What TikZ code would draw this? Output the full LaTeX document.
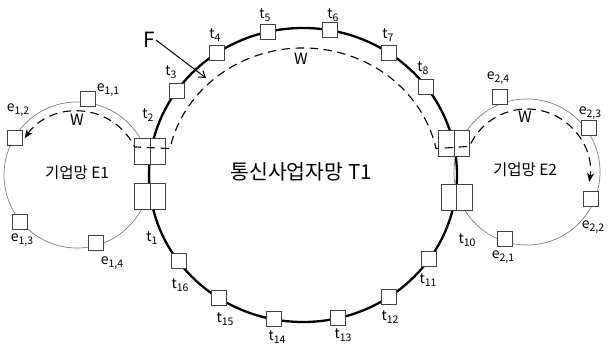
\documentclass[tikz,border=0pt]{standalone}
\usepackage{fontspec}
\setmainfont{Noto Sans CJK KR}
\usetikzlibrary{calc}
\usetikzlibrary{arrows.meta}

\newcommand{\lsub}[1]{\raisebox{-0.35ex}{\fontsize{10.5}{10.5}\selectfont #1}}

\begin{document}
\begin{tikzpicture}[
      x=1pt, y=1pt,
      tbox/.style={draw=black!75, fill=white, line width=0.8pt, minimum size=15pt, inner sep=0pt},
      pairbox/.style={draw=black!75, fill=white, line width=0.8pt, minimum width=31pt, minimum height=26pt, inner sep=0pt},
      lbl/.style={font=\fontsize{14}{14}\selectfont, inner sep=0pt},
      ring/.style={line width=2.3pt},
      ering/.style={draw=black!50, line width=0.7pt},
      wpath/.style={dash pattern=on 8.5pt off 5.5pt, line width=1.1pt},
      ]

      \useasboundingbox (0,0) rectangle (612,344);

      \coordinate (c) at (303,169);
      \coordinate (ce1) at (77,169);
      \coordinate (ce2) at (527,172);

      % rings
      \draw[ering] (ce1) circle (73pt);
      \draw[ering] (ce2) circle (73pt);
      \draw[ring] (c) ellipse (154pt and 147pt);

      % terminals on the operator ring
      \foreach \a/\n in {145/3, 124/4, 103/5, 80/6, 56/7, 37/8, -35/11, -56/12, -77/13, -101/14, -123/15, -144/16}
        \node[tbox] (t\n) at ($(c)+(\a:154pt and 147pt)$) {};

      \node[pairbox] (t2) at (150,192.5) {};
      \node[pairbox] (t1) at (150,147.5) {};
      \node[pairbox] (t9) at (454,201) {};
      \node[pairbox] (t10) at (456.5,146.5) {};
      \foreach \n in {1,2,9,10}
        \draw[draw=black!75, line width=0.8pt] (t\n.north) -- (t\n.south);

      % terminals on the enterprise rings
      \node[tbox] (e11) at (88,245) {};
      \node[tbox] (e12) at (14.5,206.5) {};
      \node[tbox] (e13) at (19.5,122.5) {};
      \node[tbox] (e14) at (96,101) {};
      \node[tbox] (e24) at (500,247) {};
      \node[tbox] (e23) at (589,216) {};
      \node[tbox] (e22) at (591,145) {};
      \node[tbox] (e21) at (505,105) {};

      % working path
      \draw[wpath, {Stealth[length=9pt,width=7pt]}-{Stealth[length=9pt,width=7pt]}]
        ($(ce1)+(145:64pt)$) arc[start angle=145, end angle=26, radius=64pt]
        -- ($(c)+(168:136pt and 127pt)$) arc[start angle=168, end angle=12, x radius=136pt, y radius=127pt]
        -- ($(ce2)+(156:63pt)$) arc[start angle=156, end angle=-9, radius=63pt];

      % labels
      \foreach \n/\x/\y in {1/152/106, 2/148/229, 3/171/272, 4/215/309, 5/265/329, 6/333/329, 7/388/309, 8/423/276,
                            10/467/104, 11/428/64, 12/390/27, 13/343/9, 14/277/7, 15/225/25, 16/180/59}
        \node[lbl] (lt\n) at (\x,\y) {t\lsub{\n}};

      \node[lbl] (le11) at (108,254) {e\lsub{1,1}};
      \node[lbl] (le12) at (18,234) {e\lsub{1,2}};
      \node[lbl] (le13) at (22,104) {e\lsub{1,3}};
      \node[lbl] (le14) at (112,81) {e\lsub{1,4}};
      \node[lbl] (le24) at (498,266) {e\lsub{2,4}};
      \node[lbl] (le23) at (590,231) {e\lsub{2,3}};
      \node[lbl] (le22) at (593,117) {e\lsub{2,2}};
      \node[lbl] (le21) at (503,87) {e\lsub{2,1}};

      \node[font=\fontsize{20.5}{20.5}\selectfont] (tnet) at (301,172) {통신사업자망 T1};
      \node[font=\fontsize{15.5}{15.5}\selectfont] (enet1) at (77,171) {기업망 E1};
      \node[font=\fontsize{15.5}{15.5}\selectfont] (enet2) at (525,174) {기업망 E2};

      \node[font=\fontsize{15.5}{15.5}\selectfont] (w0) at (301,285) {W};
      \node[font=\fontsize{15.5}{15.5}\selectfont] (w1) at (77,224) {W};
      \node[font=\fontsize{15.5}{15.5}\selectfont] (w2) at (525,227) {W};

      % fault
      \node[font=\fontsize{21}{21}\selectfont, inner sep=1pt] (F) at (149,304) {F};
      \coordinate (ftip) at (206,266);
      \draw[line width=1pt, -{Straight Barb[length=6pt,width=8pt]}] (F.east) -- (ftip);

    \end{tikzpicture}
\end{document}
